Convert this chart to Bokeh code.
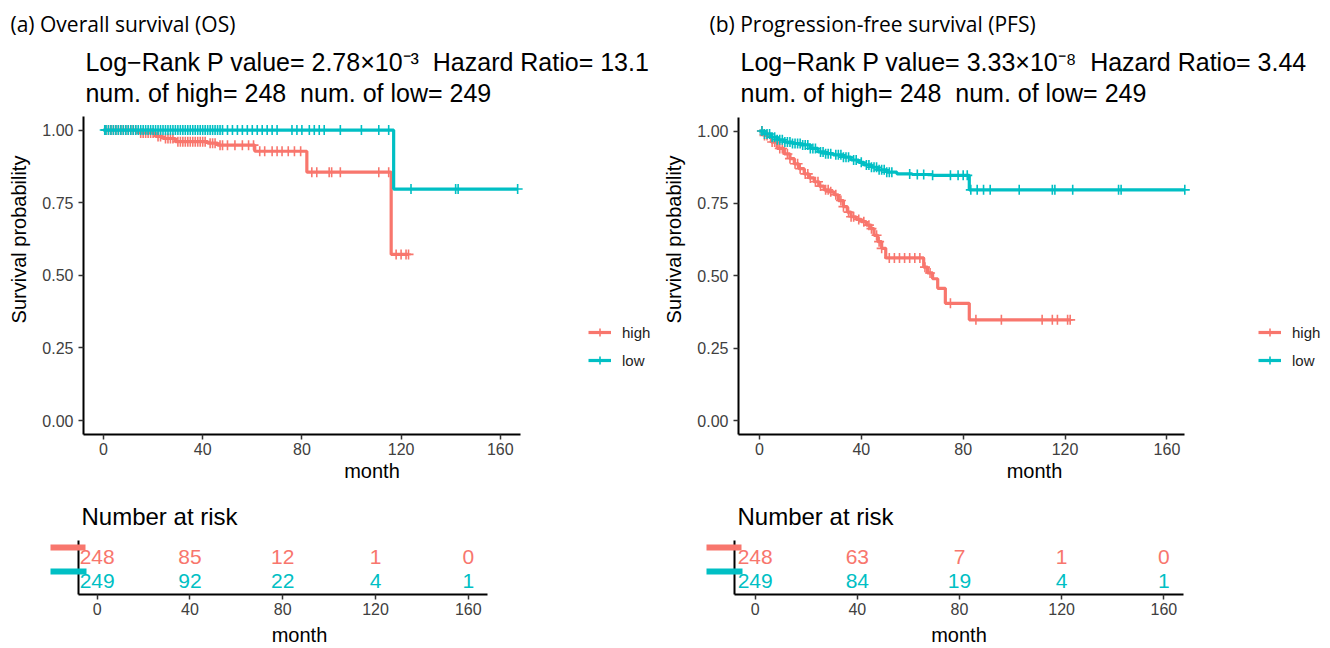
import numpy as np
from bokeh.plotting import figure
from bokeh.layouts import row, column
from bokeh.models import (Range1d, Legend, LegendItem, Title, LinearAxis, Label,
                          FixedTicker, NumeralTickFormatter, ColumnDataSource)
from bokeh.core.properties import value
from bokeh.embed import file_html
from bokeh.resources import INLINE

RED = "#F8766D"
TEAL = "#00BFC4"
FONT = "Liberation Sans"
TFONT = "Open Sans"

# ---------------- data ----------------
groups = ["high", "low"]

# (a) Overall survival: Kaplan-Meier step points (month, survival)
os_high_t = [0, 14, 21, 24, 29, 42, 46, 61, 82, 116, 123]
os_high_s = [1.0, 0.99, 0.978, 0.971, 0.96, 0.955, 0.948, 0.927, 0.855, 0.572, 0.572]
os_low_t = [0, 117, 167]
os_low_s = [1.0, 0.797, 0.797]
os_high_cens = [1, 2, 3, 4, 5, 6, 7, 8, 9, 10, 11, 12, 13, 15, 16, 17, 18, 19, 20, 22, 23, 25,
                26, 27, 28, 30, 31, 32, 33, 34, 35, 36, 37, 38, 39, 40, 41, 43, 44, 45, 47, 48,
                50, 53, 56, 58.5, 60.5, 63, 65, 68, 70, 72, 74.5, 77, 79.5, 84, 86, 91, 92,
                95.5, 111, 115, 118, 120, 122, 123]
os_low_cens = [0.5, 1, 2, 3, 4, 5, 6, 7, 8, 9, 10, 11, 12, 13, 14, 15, 16, 17, 18, 19, 20, 21,
               22, 23, 24, 25, 26, 27, 28, 29, 30, 31, 32, 33, 34, 35, 36, 37, 38, 39, 40, 41,
               42, 43, 44, 45, 46, 47, 48, 50, 52, 54, 56, 58, 60, 62, 64, 66, 68, 70, 76, 78,
               80, 83, 85, 87, 89, 95.5, 104, 111, 115, 124, 142, 143, 167]

# (b) Progression-free survival
pfs_high_t = [0, 2, 4.7, 7, 9.8, 12, 13.7, 15.5, 17.6, 19.5, 21.5, 23.5, 25.4, 27.5, 29.3, 31,
              33, 34.5, 36, 38, 40, 42, 43.7, 45, 46.5, 48, 49.6, 64.5, 66, 68, 70, 73, 82.4, 122]
pfs_high_s = [1.0, 0.985, 0.962, 0.94, 0.921, 0.905, 0.887, 0.87, 0.852, 0.838, 0.825, 0.81,
              0.797, 0.79, 0.78, 0.76, 0.739, 0.72, 0.704, 0.695, 0.687, 0.675, 0.663, 0.64,
              0.618, 0.595, 0.562, 0.53, 0.51, 0.49, 0.457, 0.405, 0.348, 0.348]
pfs_low_t = [0, 2, 4.7, 7, 9.8, 13, 16.4, 20, 23, 26, 29, 33, 36, 39, 41, 44, 46.5, 50, 54,
             60, 68, 82.4, 167]
pfs_low_s = [1.0, 0.99, 0.979, 0.97, 0.962, 0.957, 0.952, 0.94, 0.928, 0.922, 0.918, 0.91,
             0.90, 0.892, 0.883, 0.875, 0.866, 0.858, 0.852, 0.85, 0.847, 0.797, 0.797]
pfs_high_cens = [1, 2, 3, 5, 6, 8, 9, 11, 12, 14, 15, 16, 18, 19, 20, 22, 23, 24, 26, 27, 28,
                 30, 32, 33, 35, 36, 37, 39, 41, 43, 44, 46, 47, 48, 51, 53, 55, 57, 59, 61, 63,
                 65, 67, 75, 85, 95, 111, 115, 117, 121, 122]
pfs_low_cens = [1, 2, 3, 4, 5, 6, 7, 8, 9, 10, 11, 12, 13, 14, 15, 16, 17, 18, 19, 20, 21, 22,
                24, 25, 26, 27, 28, 30, 31, 32, 33, 34, 35, 37, 38, 40, 42, 43, 44, 45, 46, 47,
                48, 49, 50, 51, 52, 59, 62, 64.5, 68, 75, 78, 80, 81.6, 83, 85.5, 88, 90.6, 102,
                115, 116, 123, 141, 142, 167]

# Number at risk tables
risk_times = [0, 40, 80, 120, 160]
os_risk_high = [248, 85, 12, 1, 0]
os_risk_low = [249, 92, 22, 4, 1]
pfs_risk_high = [248, 63, 7, 1, 0]
pfs_risk_low = [249, 84, 19, 4, 1]

x_ticks = [0, 40, 80, 120, 160]
y_ticks = [0, 0.25, 0.5, 0.75, 1.0]

SP = "\u00a0 "
titles = ["(a) Overall survival (OS)", "(b) Progression-free survival (PFS)"]
stat_lines = [["Log\u2212Rank P value= 2.78\u00d710\u207b\u00b3" + SP + "Hazard Ratio= 13.1",
               "num. of high= 248" + SP + "num. of low= 249"],
              ["Log\u2212Rank P value= 3.33\u00d710\u207b\u2078" + SP + "Hazard Ratio= 3.44",
               "num. of high= 248" + SP + "num. of low= 249"]]


def surv_at(t, s, tc):
    t = np.asarray(t, float)
    s = np.asarray(s, float)
    idx = np.searchsorted(t, np.asarray(tc, float), side="right") - 1
    return s[np.clip(idx, 0, len(s) - 1)]


def style_axes(p):
    for ax in (p.xaxis, p.yaxis):
        ax.axis_line_width = 2
        ax.axis_line_color = "black"
        ax.major_tick_line_color = "#333333"
        ax.major_tick_line_width = 1.5
        ax.major_tick_out = 5
        ax.major_tick_in = 0
        ax.minor_tick_line_color = None
        ax.major_label_text_font = FONT
        ax.major_label_text_font_size = "16px"
        ax.major_label_text_color = "#404040"
        ax.axis_label_text_font = FONT
        ax.axis_label_text_font_size = "20px"
        ax.axis_label_text_font_style = "normal"
        ax.axis_label_text_color = "black"
    p.grid.visible = False
    p.outline_line_color = None
    p.background_fill_color = "white"
    p.border_fill_color = "white"


def main_panel(width, left, xr, xb, yr, data, title, stats, title_dx, text_x, text_y, leg_x):
    (ht, hs, hc, lt, ls, lc) = data
    p = figure(width=width, height=490, x_range=Range1d(*xr), y_range=Range1d(*yr),
               output_backend="svg", toolbar_location=None,
               min_border_left=left, min_border_right=0,
               min_border_top=42, min_border_bottom=56)
    style_axes(p)
    p.xaxis.ticker = FixedTicker(ticks=x_ticks)
    p.xaxis.bounds = xb
    p.yaxis.ticker = FixedTicker(ticks=y_ticks)
    p.yaxis.bounds = (yr[0], 1.046)
    p.yaxis.formatter = NumeralTickFormatter(format="0.00")
    p.xaxis.axis_label = "month"
    p.yaxis.axis_label = "Survival probability"
    p.xaxis.major_label_standoff = 3
    p.xaxis.axis_label_standoff = 2
    p.yaxis.major_label_standoff = 5
    p.yaxis.axis_label_standoff = 9

    items = []
    for name, t, s, c, col in (("high", ht, hs, hc, RED), ("low", lt, ls, lc, TEAL)):
        r1 = p.step(x=t, y=s, mode="after", line_color=col, line_width=3.2)
        cy = surv_at(t, s, c)
        r2 = p.scatter(x=c, y=cy, marker="cross", size=10, line_color=col, line_width=1.6)
        items.append(LegendItem(label=name, renderers=[r1, r2]))

    legend = Legend(items=items, location=(leg_x, 64),
                    glyph_width=23, glyph_height=20, label_height=20, spacing=8,
                    padding=0, margin=0, label_standoff=11,
                    label_text_font=FONT, label_text_font_size="15px",
                    label_text_color="#222222",
                    border_line_color=None, background_fill_alpha=0)
    p.add_layout(legend)

    for yy, line in zip(text_y, stats):
        p.add_layout(Label(x=text_x, y=yy, text=line, text_font=FONT, text_font_size="25px",
                           text_baseline="middle", text_color="black"))
    p.add_layout(Title(text=title, align="left", offset=title_dx, standoff=14,
                       text_font=TFONT, text_font_size="21px", text_font_style="normal",
                       text_color="black"), "above")
    return p


def risk_panel(width, left, right, top, xr, bounds, high, low):
    p = figure(width=width, height=158, x_range=Range1d(*xr), y_range=Range1d(0.42, 2.70),
               output_backend="svg", toolbar_location=None,
               min_border_left=left, min_border_right=right,
               min_border_top=top, min_border_bottom=158 - top - 57)
    style_axes(p)
    p.xaxis.ticker = FixedTicker(ticks=x_ticks)
    p.xaxis.bounds = bounds
    p.xaxis.axis_label = "month"
    p.xaxis.major_label_standoff = 3
    p.xaxis.axis_label_standoff = 6
    # strata keys drawn as coloured ticks of two y axes (no tick labels)
    p.yaxis.ticker = FixedTicker(ticks=[2.4])
    p.yaxis.major_tick_out = 28
    p.yaxis.major_tick_in = 7
    p.yaxis.major_tick_line_color = RED
    p.yaxis.major_tick_line_width = 6
    p.yaxis.major_label_text_font_size = "1px"
    p.yaxis.major_label_text_color = None
    p.yaxis.major_label_standoff = 0
    ax2 = LinearAxis(ticker=FixedTicker(ticks=[1.38]), axis_line_color=None,
                     major_tick_out=0, major_tick_in=36, major_tick_line_color=TEAL,
                     major_tick_line_width=6, minor_tick_line_color=None,
                     major_label_text_font_size="1px", major_label_text_color=None,
                     major_label_standoff=0)
    p.add_layout(ax2, "left")
    ypos = {"high": 2, "low": 1}
    for name, vals, col in (("high", high, RED), ("low", low, TEAL)):
        src = ColumnDataSource(dict(x=risk_times, y=[ypos[name]] * len(risk_times),
                                    t=[str(v) for v in vals]))
        p.text(x="x", y="y", text="t", source=src, text_color=col, text_align="center",
               text_baseline="middle", text_font=value(FONT), text_font_size="21px")
    p.add_layout(Title(text="Number at risk", align="left", offset=3, standoff=21,
                       text_font=FONT, text_font_size="24px", text_font_style="normal",
                       text_color="black"), "above")
    return p


pa = main_panel(660, 83, (-8.06, 224.6), (-8.06, 168.1), (-0.048, 1.2945),
                (os_high_t, os_high_s, os_high_cens, os_low_t, os_low_s, os_low_cens),
                titles[0], stat_lines[0], -73, -7.3, (1.233, 1.127), 505)
pb = main_panel(670, 75, (-8.2, 224.2), (-8.2, 166.8), (-0.048, 1.299),
                (pfs_high_t, pfs_high_s, pfs_high_cens, pfs_low_t, pfs_low_s, pfs_low_cens),
                titles[1], stat_lines[1], -29, -7.4, (1.237, 1.131), 520)
ra = risk_panel(660, 78, 140, 47, (-8.06, 182.5), (-8.06, 168.3), os_risk_high, os_risk_low)
rb = risk_panel(670, 74, 147, 50, (-8.1, 167.7), (-8.1, 167.7), pfs_risk_high, pfs_risk_low)

layout = column(row(pa, pb), row(ra, rb))
open("out.html", "w").write(file_html(layout, INLINE))
